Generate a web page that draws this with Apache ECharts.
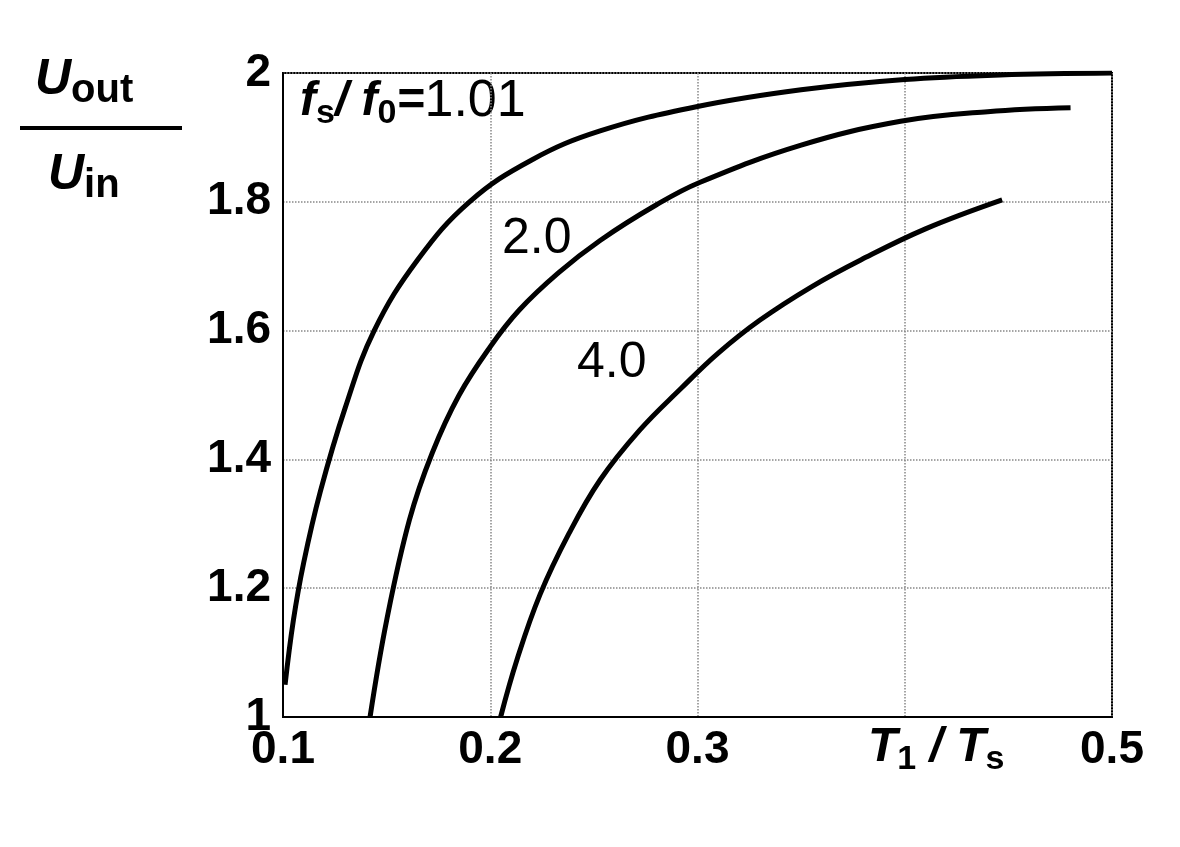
<!DOCTYPE html>
<html><head><meta charset="utf-8">
<script src="https://cdn.jsdelivr.net/npm/echarts@6/dist/echarts.min.js"></script>
<style>html,body{margin:0;padding:0;background:#fff}#c{width:1180px;height:847px}</style>
</head><body><div id="c"></div>
<script>
const xTicks=[0.1,0.2,0.3,0.4,0.5];
const yTicks=[1,1.2,1.4,1.6,1.8,2];
const curve101=[[0.101,1.05],[0.105,1.15],[0.11,1.24],[0.118,1.35],[0.13,1.48],[0.144,1.60],[0.165,1.71],[0.19,1.8],[0.22,1.865],[0.253,1.91],[0.3,1.948],[0.35,1.974],[0.4,1.99],[0.446,1.997],[0.5,2.0]];
const curve20=[[0.142,1.0],[0.15,1.15],[0.161,1.306],[0.172,1.41],[0.185,1.5],[0.2,1.575],[0.214,1.632],[0.233,1.69],[0.253,1.74],[0.28,1.795],[0.301,1.83],[0.35,1.888],[0.398,1.925],[0.44,1.94],[0.48,1.946]];
const curve40=[[0.205,1.0],[0.213,1.09],[0.224,1.19],[0.238,1.285],[0.253,1.368],[0.272,1.445],[0.292,1.51],[0.31,1.565],[0.33,1.616],[0.355,1.668],[0.379,1.71],[0.41,1.758],[0.447,1.803]];
const F='Liberation Sans, Arial, sans-serif';
const ch=echarts.init(document.getElementById('c'));
const ls={color:'#000',width:5};
ch.setOption({
 animation:false,
 grid:{left:283,right:68,top:73,bottom:130,show:true,borderColor:'#000',borderWidth:2},
 xAxis:{type:'value',min:0.1,max:0.5,interval:0.1,
  axisLine:{lineStyle:{color:'#000',width:2}},axisTick:{show:false},
  splitLine:{show:true,lineStyle:{color:'#888',type:'dotted',width:1.5}},
  axisLabel:{color:'#000',fontFamily:F,fontWeight:'bold',fontSize:46,margin:10,
   formatter:v=>Math.abs(v-0.4)<1e-6?'':(+v.toFixed(1)).toString()}},
 yAxis:{type:'value',min:1,max:2,interval:0.2,
  axisLine:{lineStyle:{color:'#000',width:2}},axisTick:{show:false},
  splitLine:{show:true,lineStyle:{color:'#888',type:'dotted',width:1.5}},
  axisLabel:{color:'#000',fontFamily:F,fontWeight:'bold',fontSize:46,margin:12,
   formatter:v=>(+v.toFixed(1)).toString()}},
 series:[
  {type:'line',data:curve101,smooth:0.4,showSymbol:false,lineStyle:ls},
  {type:'line',data:curve20,smooth:0.4,showSymbol:false,lineStyle:ls},
  {type:'line',data:curve40,smooth:0.4,showSymbol:false,lineStyle:ls}
 ],
 graphic:[
  {type:'rect',shape:{x:293,y:76,width:310,height:76},style:{fill:'#fff'}},
  {type:'text',left:300,top:76,style:{rich:{
    b:{fontFamily:F,fontWeight:'bold',fontStyle:'italic',fontSize:48,fill:'#000'},
    s:{fontFamily:F,fontWeight:'bold',fontSize:34,fill:'#000',padding:[24,0,0,0]},
    n:{fontFamily:F,fontSize:52,fill:'#000'}},
    text:'{b|f}{s|s}{b|/ f}{s|0}{b|=}{n|1.01}'}},
  {type:'text',left:502,top:214,style:{text:'2.0',fontFamily:F,fontSize:50,fill:'#000'}},
  {type:'text',left:577,top:338,style:{text:'4.0',fontFamily:F,fontSize:50,fill:'#000'}},
  {type:'text',left:868,top:724,style:{rich:{
    b:{fontFamily:F,fontWeight:'bold',fontStyle:'italic',fontSize:48,fill:'#000'},
    s:{fontFamily:F,fontWeight:'bold',fontSize:34,fill:'#000',padding:[24,0,0,0]}},
    text:'{b|T}{s|1}{b| / T}{s|s}'}},
  {type:'text',left:35,top:55,style:{rich:{
    b:{fontFamily:F,fontWeight:'bold',fontStyle:'italic',fontSize:50,fill:'#000'},
    s:{fontFamily:F,fontWeight:'bold',fontSize:40,fill:'#000',padding:[22,0,0,0]}},
    text:'{b|U}{s|out}'}},
  {type:'line',shape:{x1:20,y1:128,x2:182,y2:128},style:{stroke:'#000',lineWidth:4}},
  {type:'text',left:48,top:150,style:{rich:{
    b:{fontFamily:F,fontWeight:'bold',fontStyle:'italic',fontSize:50,fill:'#000'},
    s:{fontFamily:F,fontWeight:'bold',fontSize:40,fill:'#000',padding:[22,0,0,0]}},
    text:'{b|U}{s|in}'}}
 ]
});
</script></body></html>
